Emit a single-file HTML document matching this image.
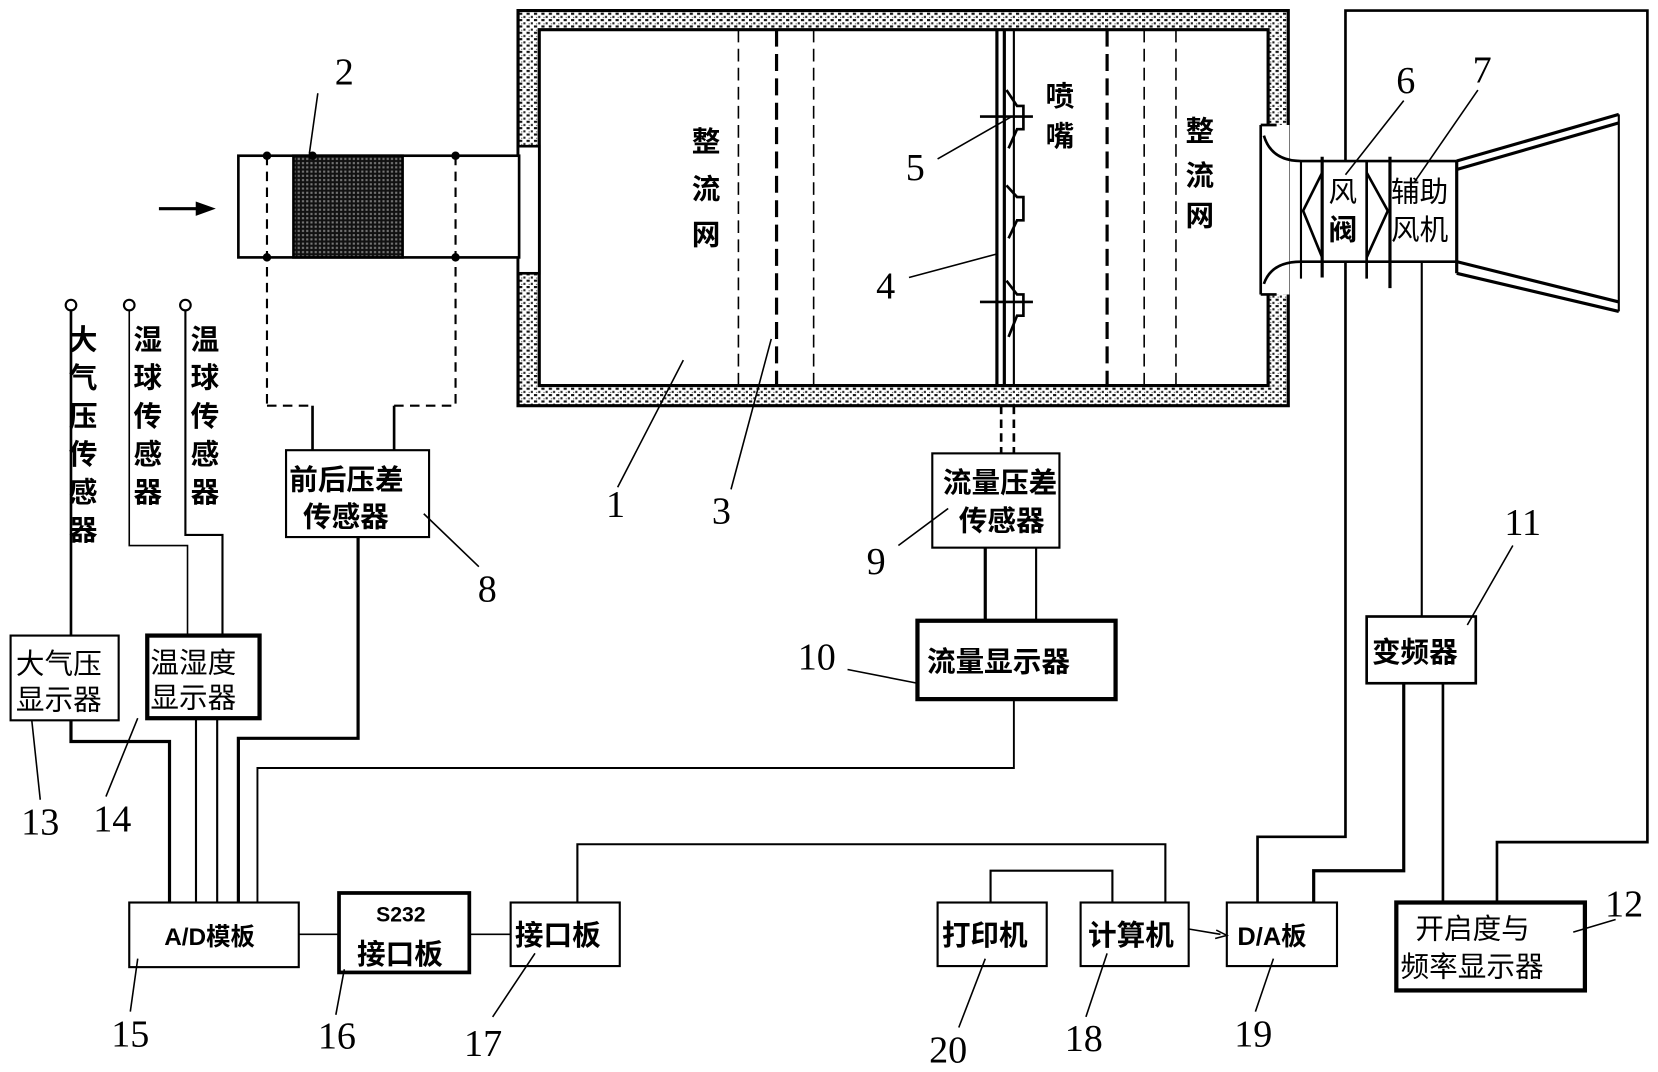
<!DOCTYPE html>
<html><head><meta charset="utf-8"><style>
html,body{margin:0;padding:0;background:#fff;}
svg{display:block}
text{font-family:"Liberation Serif","Noto Serif CJK SC",serif;fill:#000}
.c text{font-family:"Liberation Sans","Noto Sans CJK SC",sans-serif;}
.c{font-weight:bold;font-size:27px}
.n{font-size:36px}
</style></head><body>
<svg width="1658" height="1072" viewBox="0 0 1565 1012" preserveAspectRatio="none" xmlns="http://www.w3.org/2000/svg">
<defs>
<pattern id="dots" width="7" height="6" patternUnits="userSpaceOnUse">
<rect width="7" height="6" fill="#fff"/>
<rect x="0" y="0" width="3" height="2" fill="#111"/>
<rect x="4" y="3" width="2" height="2" fill="#222"/>
<rect x="2" y="4" width="1" height="1" fill="#444"/>
</pattern>
<pattern id="mesh" width="4" height="4" patternUnits="userSpaceOnUse">
<rect width="4" height="4" fill="#111"/><rect x="1" y="1" width="2" height="2" fill="#777"/>
</pattern>
</defs>
<g stroke="#000" fill="none" stroke-width="2.5">
<path d="M489,10 H1216 V383 H489 Z M509,28 V364 H1197 V28 Z" fill="url(#dots)" fill-rule="evenodd" stroke-width="3"/>
<rect x="489" y="138" width="20" height="120" fill="#fff" stroke-width="2.5"/>
<rect x="1190" y="118" width="27" height="160" fill="#fff" stroke="none"/>
<rect x="225" y="147" width="265" height="96" fill="#fff"/>
<rect x="277" y="147" width="103" height="96" fill="url(#mesh)"/>
<g stroke-dasharray="9,6" stroke-width="2">
<line x1="252" y1="147" x2="252" y2="383"/><line x1="430" y1="147" x2="430" y2="383"/>
<line x1="252" y1="383" x2="295" y2="383"/><line x1="372" y1="383" x2="430" y2="383"/>
</g>
<g fill="#000" stroke="none">
<circle cx="252" cy="147" r="4"/><circle cx="295" cy="147" r="4"/><circle cx="430" cy="147" r="4"/>
<circle cx="252" cy="243" r="4"/><circle cx="430" cy="243" r="4"/>
</g>
<line x1="295" y1="383" x2="295" y2="425"/><line x1="372" y1="383" x2="372" y2="425"/>
<line x1="150" y1="197" x2="190" y2="197" stroke-width="3"/>
<path d="M186,192 L200,197 L186,202 Z" fill="#000"/>
<line x1="697" y1="28" x2="697" y2="364" stroke-width="1.5" stroke-dasharray="12,6"/>
<line x1="733" y1="28" x2="733" y2="364" stroke-width="3" stroke-dasharray="16,7"/>
<line x1="768" y1="28" x2="768" y2="364" stroke-width="1.5" stroke-dasharray="12,6"/>
<line x1="1045" y1="28" x2="1045" y2="364" stroke-width="3" stroke-dasharray="16,7"/>
<line x1="1080" y1="28" x2="1080" y2="364" stroke-width="1.5" stroke-dasharray="12,6"/>
<line x1="1110" y1="28" x2="1110" y2="364" stroke-width="1.5" stroke-dasharray="12,6"/>
<line x1="941" y1="28" x2="941" y2="364" stroke-width="3"/>
<line x1="948" y1="28" x2="948" y2="364" stroke-width="3"/>
<line x1="957" y1="28" x2="957" y2="364" stroke-width="2"/>
<line x1="925" y1="110" x2="975" y2="110"/><line x1="925" y1="285" x2="975" y2="285"/>
<path d="M950,85 L960,100 H966 V122 H960 L952,140"/>
<path d="M950,175 L960,186 H966 V208 H960 L952,225"/>
<path d="M950,265 L960,278 H966 V298 H960 L952,318"/>
<line x1="945" y1="383" x2="945" y2="428" stroke-dasharray="8,5"/>
<line x1="957" y1="383" x2="957" y2="428" stroke-dasharray="8,5"/>
<path d="M1190,118 V278 M1190,118 H1205 M1190,278 H1205"/>
<path d="M1193,128 Q1200,152 1228,152 H1375 M1193,268 Q1200,247 1228,247 H1375"/>
<line x1="1228" y1="152" x2="1228" y2="263" stroke-width="2"/>
<line x1="1248" y1="148" x2="1248" y2="262" stroke-width="3"/>
<line x1="1290" y1="152" x2="1290" y2="263"/>
<line x1="1312" y1="148" x2="1312" y2="272" stroke-width="3"/>
<path d="M1248,163 L1230,199 L1248,243 M1290,163 L1310,199 L1290,243"/>
<line x1="1375" y1="152" x2="1375" y2="258" stroke-width="3"/>
<path d="M1375,152 L1528,108 M1375,160 L1528,116 M1375,247 L1528,285 M1375,258 L1528,294" stroke-width="3"/>
<line x1="1528" y1="108" x2="1528" y2="294" stroke-width="2"/>
<path d="M1270,152 V10 H1555 V795 H1413 V852"/>
<path d="M1270,247 V790 H1187 V852"/>
<line x1="1342" y1="247" x2="1342" y2="582" stroke-width="2"/>
<path d="M1325,645 V822 H1240 V852" stroke-width="3"/>
<line x1="1362" y1="645" x2="1362" y2="852"/>
<rect x="270" y="425" width="135" height="82" fill="#fff" stroke-width="2"/>
<rect x="880" y="428" width="120" height="89" fill="#fff" stroke-width="2"/>
<rect x="866" y="586" width="187" height="74" fill="#fff" stroke-width="4"/>
<rect x="1290" y="582" width="103" height="63" fill="#fff" stroke-width="2.5"/>
<rect x="1318" y="852" width="178" height="83" fill="#fff" stroke-width="4"/>
<rect x="10" y="600" width="102" height="80" fill="#fff" stroke-width="2"/>
<rect x="139" y="600" width="106" height="78" fill="#fff" stroke-width="4"/>
<rect x="122" y="852" width="160" height="61" fill="#fff" stroke-width="2"/>
<rect x="320" y="843" width="123" height="75" fill="#fff" stroke-width="3.5"/>
<rect x="482" y="852" width="103" height="60" fill="#fff" stroke-width="2"/>
<rect x="885" y="852" width="103" height="60" fill="#fff" stroke-width="2"/>
<rect x="1020" y="852" width="102" height="60" fill="#fff" stroke-width="2"/>
<rect x="1158" y="852" width="104" height="60" fill="#fff" stroke-width="2"/>
<circle cx="67" cy="288" r="5" stroke-width="2"/><circle cx="122" cy="288" r="5" stroke-width="2"/><circle cx="175" cy="288" r="5" stroke-width="2"/>
<line x1="67" y1="293" x2="67" y2="600"/>
<path d="M122,293 V515 H177 V600" stroke-width="1.5"/>
<path d="M175,293 V505 H210 V600" stroke-width="2"/>
<path d="M67,680 V700 H160 V852" stroke-width="3"/>
<line x1="185" y1="678" x2="185" y2="852" stroke-width="2"/>
<line x1="205" y1="678" x2="205" y2="852" stroke-width="2"/>
<path d="M338,507 V697 H225 V852" stroke-width="3"/>
<path d="M957,660 V725 H243 V852" stroke-width="1.8"/>
<line x1="930" y1="517" x2="930" y2="586" stroke-width="3"/>
<line x1="978" y1="517" x2="978" y2="586" stroke-width="2"/>
<line x1="282" y1="882" x2="320" y2="882" stroke-width="1.5"/>
<line x1="443" y1="882" x2="482" y2="882" stroke-width="1.5"/>
<path d="M545,852 V797 H1100 V852" stroke-width="2"/>
<path d="M935,852 V822 H1050 V852" stroke-width="2"/>
<line x1="1122" y1="877" x2="1152" y2="882" stroke-width="1.5"/>
<path d="M1148,878 L1158,883 L1147,886" stroke-width="1.5"/>
<g stroke-width="1.5">
<line x1="300" y1="88" x2="292" y2="145"/>
<line x1="583" y1="460" x2="645" y2="340"/>
<line x1="690" y1="462" x2="728" y2="320"/>
<line x1="858" y1="262" x2="940" y2="240"/>
<line x1="885" y1="150" x2="955" y2="110"/>
<line x1="1325" y1="95" x2="1270" y2="165"/>
<line x1="1395" y1="85" x2="1335" y2="172"/>
<line x1="452" y1="535" x2="400" y2="485"/>
<line x1="848" y1="515" x2="895" y2="480"/>
<line x1="800" y1="632" x2="866" y2="645"/>
<line x1="1428" y1="515" x2="1385" y2="590"/>
<line x1="1525" y1="868" x2="1485" y2="880"/>
<line x1="38" y1="755" x2="30" y2="680"/>
<line x1="100" y1="752" x2="130" y2="678"/>
<line x1="123" y1="955" x2="130" y2="905"/>
<line x1="317" y1="958" x2="325" y2="915"/>
<line x1="465" y1="960" x2="505" y2="900"/>
<line x1="1025" y1="960" x2="1045" y2="900"/>
<line x1="1185" y1="955" x2="1202" y2="905"/>
<line x1="905" y1="970" x2="930" y2="905"/>
</g>
</g>
<g class="c">
<text x="653" y="143">整</text><text x="653" y="188">流</text><text x="653" y="231">网</text>
<text x="987" y="100">喷</text><text x="987" y="138">嘴</text>
<text x="1119" y="133">整</text><text x="1119" y="175">流</text><text x="1119" y="213">网</text>
<text x="1254" y="190" style="font-weight:normal">风</text><text x="1254" y="226">阀</text>
<text x="1313" y="190" style="font-weight:normal">辅助</text><text x="1313" y="226" style="font-weight:normal">风机</text>
<text x="273" y="462">前后压差</text><text x="286" y="497">传感器</text>
<text x="890" y="465">流量压差</text><text x="905" y="501">传感器</text>
<text x="875" y="634">流量显示器</text>
<text x="1295" y="625">变频器</text>
<text x="1336" y="886" style="font-weight:normal">开启度与</text><text x="1322" y="922" style="font-weight:normal">频率显示器</text>
<text x="15" y="636" style="font-weight:normal">大气压</text><text x="15" y="670" style="font-weight:normal">显示器</text>
<text x="142" y="635" style="font-weight:normal">温湿度</text><text x="142" y="668" style="font-weight:normal">显示器</text>
<text x="155" y="892" style="font-size:23px">A/D模板</text>
<text x="355" y="870" style="font-size:20px">S232</text><text x="337" y="910">接口板</text>
<text x="486" y="892">接口板</text>
<text x="889" y="892">打印机</text>
<text x="1027" y="892">计算机</text>
<text x="1168" y="892" style="font-size:24px">D/A板</text>
<text x="65" y="330">大</text><text x="65" y="366">气</text><text x="65" y="402">压</text><text x="65" y="438">传</text><text x="65" y="474">感</text><text x="65" y="510">器</text>
<text x="126" y="330">湿</text><text x="126" y="366">球</text><text x="126" y="402">传</text><text x="126" y="438">感</text><text x="126" y="474">器</text>
<text x="180" y="330">温</text><text x="180" y="366">球</text><text x="180" y="402">传</text><text x="180" y="438">感</text><text x="180" y="474">器</text>
</g>
<g class="n">
<text x="316" y="80">2</text><text x="572" y="488">1</text><text x="672" y="494">3</text>
<text x="827" y="282">4</text><text x="855" y="170">5</text><text x="1318" y="88">6</text><text x="1390" y="78">7</text>
<text x="451" y="568">8</text><text x="818" y="542">9</text><text x="753" y="632">10</text>
<text x="1420" y="505">11</text><text x="1515" y="865">12</text><text x="20" y="788">13</text><text x="88" y="785">14</text>
<text x="105" y="988">15</text><text x="300" y="990">16</text><text x="438" y="997">17</text><text x="1005" y="992">18</text>
<text x="1165" y="988">19</text><text x="877" y="1003">20</text>
</g>
</svg>
</body></html>
